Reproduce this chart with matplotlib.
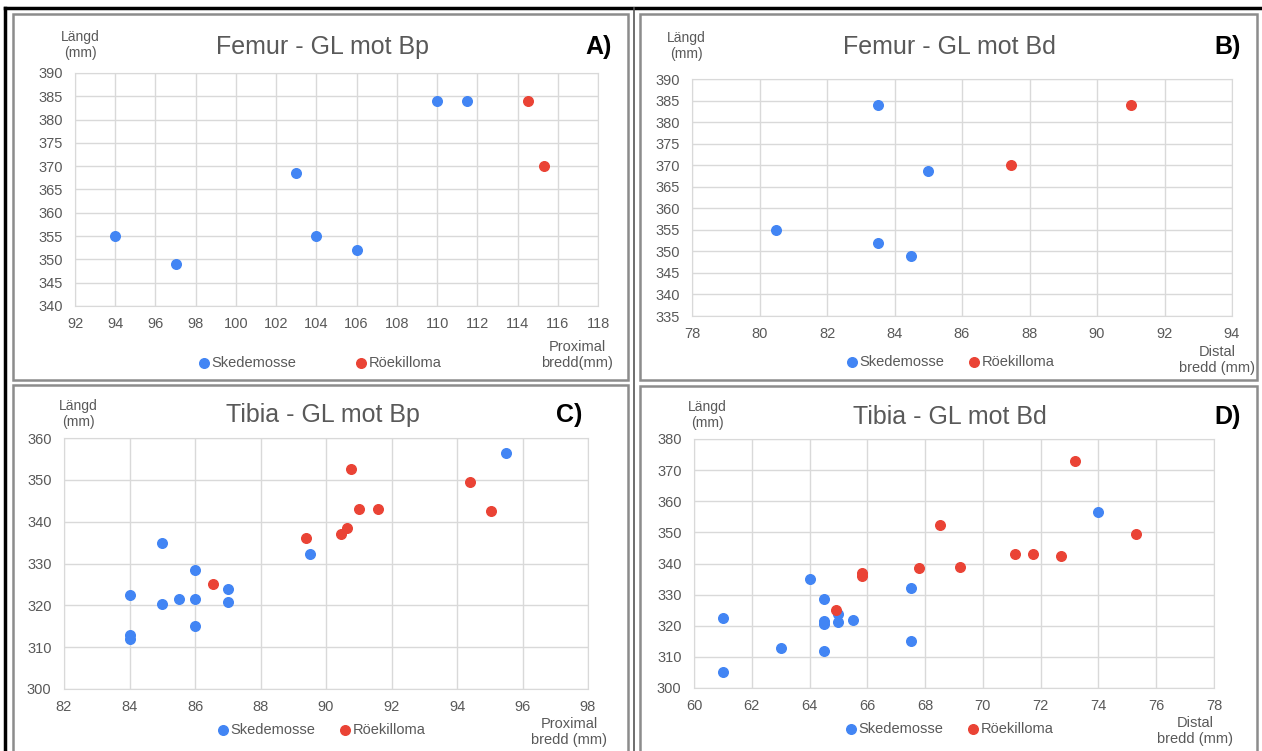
import matplotlib.pyplot as plt
from matplotlib.lines import Line2D
from matplotlib.patches import Rectangle

plt.rcParams['font.family'] = ['Liberation Sans', 'DejaVu Sans']

BLUE = "#4285F4"
RED = "#EA4335"
GREY_TXT = "#595959"

# A) Femur - GL mot Bp
a_sked_x = [94, 97, 103, 104, 106, 110, 111.5]
a_sked_y = [355, 349, 368.6, 355, 352, 384, 384]
a_roek_x = [114.5, 115.3]
a_roek_y = [384, 370]

# B) Femur - GL mot Bd
b_sked_x = [83.5, 85, 80.5, 83.5, 84.5]
b_sked_y = [384, 368.7, 355, 352, 349]
b_roek_x = [87.45, 91]
b_roek_y = [370, 384]

# C) Tibia - GL mot Bp
c_sked_x = [84, 84, 84, 85, 85, 85.5, 86, 86, 86, 87, 87, 89.5, 95.5]
c_sked_y = [322.4, 313, 311.9, 335, 320.4, 321.5, 328.5, 321.5, 315, 323.9, 320.9, 332.2, 356.4]
c_roek_x = [86.55, 89.4, 90.45, 90.65, 90.75, 91, 91.6, 94.4, 95.05]
c_roek_y = [325, 336, 337, 338.5, 352.5, 343, 343, 349.5, 342.5]

# D) Tibia - GL mot Bd
d_sked_x = [61, 61, 63, 64, 64.5, 64.5, 64.5, 64.5, 65, 65, 65.5, 67.5, 67.5, 74]
d_sked_y = [322.4, 305, 312.8, 335, 328.6, 321.4, 320.5, 311.8, 323.9, 321.3, 321.8, 332.1, 315, 356.6]
d_roek_x = [64.9, 65.8, 65.8, 67.8, 68.5, 69.2, 71.1, 71.75, 72.7, 73.2, 75.3]
d_roek_y = [324.9, 337.1, 336, 338.5, 352.4, 339, 342.9, 342.9, 342.5, 373, 349.4]

W, H = 1262, 751
fig = plt.figure(figsize=(W / 100, H / 100), dpi=100)


def fx(px):
    return px / W


def fy(py):
    return 1 - py / H


def panel_box(x0, y0, x1, y1):
    fig.add_artist(Rectangle((fx(x0), fy(y1)), fx(x1 - x0), (y1 - y0) / H,
                             transform=fig.transFigure, fill=False,
                             edgecolor="#8c8c8c", linewidth=1.8))


def make_panel(rect, data, xlim, ylim, xstep, ystep, title, tag,
               title_xy, tag_xy, langd_xy, leg_xy, colspace, xlab, xlab_xy):
    x0, y0, x1, y1 = rect
    sx, sy, rx, ry = data
    ax = fig.add_axes([fx(x0), fy(y1), fx(x1 - x0), (y1 - y0) / H])
    ax.set_xlim(*xlim)
    ax.set_ylim(*ylim)
    ax.set_xticks(range(xlim[0], xlim[1] + 1, xstep))
    ax.set_yticks(range(ylim[0], ylim[1] + 1, ystep))
    ax.grid(True, color="#d9d9d9", linewidth=1)
    ax.set_axisbelow(True)
    for s in ax.spines.values():
        s.set_color("#d9d9d9")
    ax.tick_params(length=0, labelsize=10.5, labelcolor=GREY_TXT)
    ax.tick_params(axis="y", pad=9)
    ax.tick_params(axis="x", pad=8)
    h1 = ax.scatter(sx, sy, s=48, color=BLUE, zorder=3, label="Skedemosse")
    h2 = ax.scatter(rx, ry, s=48, color=RED, zorder=4, label="Röekilloma")

    fig.text(fx(title_xy[0]), fy(title_xy[1]), title, ha="center", va="center",
             fontsize=18, color=GREY_TXT)
    fig.text(fx(tag_xy[0]), fy(tag_xy[1]), tag, ha="right", va="center",
             fontsize=18, fontweight="bold", color="black")
    fig.text(fx(langd_xy[0]), fy(langd_xy[1]), "Längd\n(mm)", ha="center",
             va="center", fontsize=10, color=GREY_TXT, linespacing=1.1)
    fig.text(fx(xlab_xy[0]), fy(xlab_xy[1]), xlab, ha="center", va="center",
             fontsize=10.5, color=GREY_TXT, linespacing=1.1)
    ax.legend(handles=[h1, h2], loc="center left", ncol=2, frameon=False,
              bbox_to_anchor=(fx(leg_xy[0]), fy(leg_xy[1])),
              bbox_transform=fig.transFigure, fontsize=10.5,
              labelcolor=GREY_TXT, handletextpad=0.0, columnspacing=colspace,
              markerscale=1.0, borderpad=0, handlelength=1.0)
    return ax


# panel frames
panel_box(13, 14, 628, 380)
panel_box(640, 14, 1257, 380)
panel_box(13, 385, 628, 760)
panel_box(640, 386, 1257, 760)

make_panel((75, 73, 598, 306), (a_sked_x, a_sked_y, a_roek_x, a_roek_y),
           (92, 118), (340, 390), 2, 5, "Femur - GL mot Bp", "A)",
           (322, 47), (612, 47), (80, 45), (189, 363), 4.0,
           "Proximal\nbredd(mm)", (577, 355))

make_panel((692, 79, 1232, 316), (b_sked_x, b_sked_y, b_roek_x, b_roek_y),
           (78, 94), (335, 390), 2, 5, "Femur - GL mot Bd", "B)",
           (949, 47), (1241, 47), (686, 46), (837, 362), 1.6,
           "Distal\nbredd (mm)", (1217, 360))

make_panel((64, 438, 588, 689), (c_sked_x, c_sked_y, c_roek_x, c_roek_y),
           (82, 98), (300, 360), 2, 10, "Tibia - GL mot Bp", "C)",
           (323, 415), (582, 415), (78, 414), (208, 730), 1.6,
           "Proximal\nbredd (mm)", (569, 732))

make_panel((694, 439, 1214, 688), (d_sked_x, d_sked_y, d_roek_x, d_roek_y),
           (60, 78), (300, 380), 2, 10, "Tibia - GL mot Bd", "D)",
           (950, 417), (1241, 417), (707, 415), (836, 729), 1.6,
           "Distal\nbredd (mm)", (1195, 731))

# outer black frame of the composite picture
fig.add_artist(Line2D([fx(5), 1], [fy(8), fy(8)], color="black", lw=2.5,
                      transform=fig.transFigure))
fig.add_artist(Line2D([fx(5), fx(5)], [fy(8), 0], color="black", lw=2.5,
                      transform=fig.transFigure))
fig.add_artist(Line2D([fx(634), fx(634)], [fy(8), 0], color="#555555", lw=1.2,
                      transform=fig.transFigure))

fig.savefig("out.png", dpi=100)
